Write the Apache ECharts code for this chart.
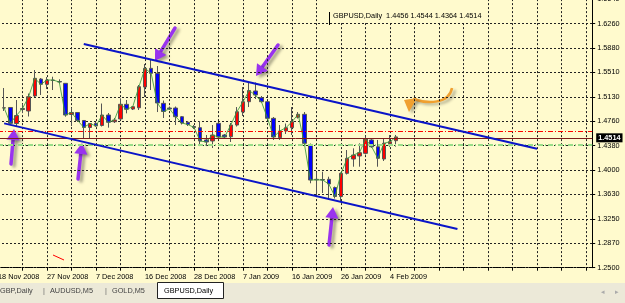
<!DOCTYPE html>
<html><head><meta charset="utf-8">
<script src="https://cdn.jsdelivr.net/npm/echarts/dist/echarts.min.js"></script>
<style>html,body{margin:0;padding:0;background:#fffacd;}#c{width:625px;height:303px;}</style>
</head><body><div id="c"></div>
<script>
// ---- data ----
const categories = ["18 Nov 2008","19 Nov 2008","20 Nov 2008","21 Nov 2008","23 Nov 2008","24 Nov 2008","25 Nov 2008","26 Nov 2008","27 Nov 2008","28 Nov 2008",
"30 Nov 2008","1 Dec 2008","2 Dec 2008","3 Dec 2008","4 Dec 2008","5 Dec 2008","7 Dec 2008","8 Dec 2008","9 Dec 2008","10 Dec 2008",
"11 Dec 2008","12 Dec 2008","14 Dec 2008","15 Dec 2008","16 Dec 2008","17 Dec 2008","18 Dec 2008","19 Dec 2008","21 Dec 2008","22 Dec 2008",
"23 Dec 2008","24 Dec 2008","28 Dec 2008","29 Dec 2008","30 Dec 2008","31 Dec 2008","2 Jan 2009","4 Jan 2009","5 Jan 2009","6 Jan 2009",
"7 Jan 2009","8 Jan 2009","9 Jan 2009","11 Jan 2009","12 Jan 2009","13 Jan 2009","14 Jan 2009","15 Jan 2009","16 Jan 2009","18 Jan 2009",
"19 Jan 2009","20 Jan 2009","21 Jan 2009","22 Jan 2009","23 Jan 2009","25 Jan 2009","26 Jan 2009","27 Jan 2009","28 Jan 2009","29 Jan 2009",
"30 Jan 2009","1 Feb 2009","2 Feb 2009","3 Feb 2009","4 Feb 2009","5 Feb 2009"];
const openP  = [null,1.4959,1.4967,1.4720,1.4936,1.4913,1.5144,1.5405,1.5324,1.5383,1.5367,1.5339,1.4859,1.4890,1.4767,1.4659,1.4723,1.4690,1.4851,1.4748,1.4790,1.5016,1.4943,1.4963,1.5282,1.5570,1.5493,1.5031,1.4959,1.4959,1.4825,1.4739,1.4674,1.4656,1.4467,1.4451,1.4723,1.4543,1.4517,1.4697,1.4897,1.5056,1.5221,1.5117,1.5056,1.4800,1.4502,1.4605,1.4656,1.4816,1.4862,1.4397,1.3861,1.3858,1.3861,1.3735,1.3596,1.3953,1.4174,1.4220,1.4261,1.4467,1.4362,1.4174,1.4409,1.4456];
const closeP = [null,1.4962,1.4723,1.4843,1.4951,1.5133,1.5416,1.5324,1.5390,1.5390,1.5359,1.4851,1.4890,1.4767,1.4659,1.4720,1.4682,1.4851,1.4739,1.4774,1.5016,1.4939,1.4979,1.5287,1.5570,1.5493,1.5036,1.4905,1.4946,1.4825,1.4728,1.4705,1.4659,1.4451,1.4436,1.4543,1.4513,1.4513,1.4697,1.4902,1.5056,1.5228,1.5159,1.5056,1.4800,1.4513,1.4605,1.4656,1.4748,1.4862,1.4415,1.3850,1.3853,1.3850,1.3789,1.3596,1.3953,1.4184,1.4235,1.4271,1.4482,1.4362,1.4184,1.4415,1.4440,1.4514];
const highP  = [null,1.5267,1.4974,1.5082,1.5021,1.5182,1.5544,1.5421,1.5436,1.5441,1.5401,1.5344,1.4959,1.4897,1.4774,1.4728,1.4744,1.5028,1.4882,1.4805,1.5108,1.5082,1.4990,1.5313,1.5636,1.5713,1.5606,1.5074,1.4982,1.4982,1.4836,1.4759,1.4697,1.4759,1.4543,1.4697,1.4744,1.4559,1.4728,1.4974,1.5282,1.5355,1.5352,1.5144,1.5067,1.4820,1.4697,1.4720,1.4974,1.4897,1.4897,1.4412,1.3974,1.3978,1.3901,1.3750,1.3966,1.4312,1.4338,1.4415,1.4520,1.4492,1.4467,1.4497,1.4543,1.4544];
const lowP   = [null,1.4913,1.4713,1.4666,1.4882,1.4828,1.5128,1.5159,1.5251,1.5236,1.5339,1.4825,1.4682,1.4744,1.4482,1.4497,1.4671,1.4674,1.4656,1.4728,1.4774,1.4877,1.4928,1.4928,1.5128,1.5236,1.4897,1.4805,1.4928,1.4697,1.4705,1.4682,1.4636,1.4373,1.4373,1.4343,1.4490,1.4497,1.4436,1.4674,1.4836,1.4974,1.5098,1.5044,1.4774,1.4467,1.4467,1.4559,1.4543,1.4797,1.4397,1.3800,1.3612,1.3650,1.3543,1.3566,1.3527,1.3935,1.4055,1.4055,1.4243,1.4347,1.4055,1.4143,1.4362,1.4364];
const priceTickLabels = ["1.2500","1.2870","1.3250","1.3630","1.4000","1.4380","1.4760","1.5130","1.5510","1.5880","1.6260","1.6640"];
const upperChannel = [[14,1.5945],[88,1.4331]];
const lowerChannel = [[1,1.4722],[75,1.3097]];
const redLevel = 1.4585, bidLevel = 1.4514, greenLevel = 1.4447;
const infoText = "GBPUSD,Daily  1.4456 1.4544 1.4364 1.4514";
const futureSlots = 32;

// ---- chart ----
const axisCats = categories.concat(Array.from({length:futureSlots},(_,i)=>'+'+(i+1)));
const candleData = categories.map((d,k)=> openP[k]==null ? '-' : [openP[k],closeP[k],lowP[k],highP[k]]);
const FONT = 'Liberation Sans, Arial, sans-serif';
const dotted = {color:'#222',type:[2,2],width:1};

function arrow(x1,y1,x2,y2,color,w,head){
  const dx=x2-x1, dy=y2-y1, len=Math.hypot(dx,dy), ux=dx/len, uy=dy/len;
  const bx=x2-ux*head, by=y2-uy*head, px=-uy, py=ux, hw=head*0.6;
  const sh={shadowColor:'rgba(0,0,0,0.35)',shadowBlur:3,shadowOffsetX:3,shadowOffsetY:2};
  return {type:'group',z:100,silent:true,children:[
    {type:'line',shape:{x1:x1,y1:y1,x2:bx+ux,y2:by+uy},style:Object.assign({stroke:color,lineWidth:w,lineCap:'round'},sh)},
    {type:'polygon',shape:{points:[[x2,y2],[bx+px*hw,by+py*hw],[bx-px*hw,by-py*hw]]},style:Object.assign({fill:color},sh)}
  ]};
}
const purple='#9933ee';

const chart = echarts.init(document.getElementById('c'));
chart.setOption({
  animation:false,
  backgroundColor:'#fffacd',
  textStyle:{fontFamily:FONT},
  grid:{left:-2,right:32.8,top:-0.9,bottom:35.3,containLabel:false,outerBoundsMode:'none'},
  xAxis:{type:'category',data:axisCats,boundaryGap:false,
    axisLine:{lineStyle:{color:'#000',type:[2,1]}},
    axisTick:{interval:(k)=>k%4===0,length:3,lineStyle:{color:'#000'}},
    axisLabel:{interval:0,hideOverlap:false,align:'left',margin:6,fontSize:7.3,color:'#000',fontFamily:FONT,
      formatter:(v,k)=> (k%8===0 && k<categories.length) ? v : ''},
    splitLine:{show:true,interval:(k)=>k%4===0,lineStyle:dotted}},
  yAxis:[
    {type:'value',min:1.25,max:1.6636,show:false,position:'left',scale:true},
    {type:'value',min:0,max:11,interval:1,position:'right',
      axisLine:{show:true,lineStyle:{color:'#000'}},
      axisTick:{show:true,length:3,lineStyle:{color:'#000'}},
      axisLabel:{margin:5,fontSize:7.3,color:'#000',fontFamily:FONT,formatter:(v)=>priceTickLabels[Math.round(v)]||''},
      splitLine:{show:true,lineStyle:dotted}}
  ],
  series:[
    {type:'candlestick',yAxisIndex:0,data:candleData,barWidth:4,z:3,
      itemStyle:{color:'#ff0000',color0:'#0000ff',borderColor:'#555',borderColor0:'#555',borderWidth:1},
      markLine:{silent:true,symbol:['none','none'],animation:false,
        data:[
          {yAxis:redLevel,lineStyle:{color:'#ff0000',type:[5,2,1,2],width:1},label:{show:false}},
          {yAxis:greenLevel,lineStyle:{color:'#99dd88',type:[5,2,1,2],width:2},label:{show:false}},
          {yAxis:bidLevel,lineStyle:{color:'#7a1a1a',type:'solid',width:1},
            label:{show:true,position:'end',distance:4,formatter:bidLevel.toFixed(4),backgroundColor:'#000',color:'#fff',fontSize:7.3,fontWeight:'bold',padding:[1,2,1,2],fontFamily:FONT}}
        ]}},
    {type:'line',yAxisIndex:0,data:closeP,symbol:'none',z:4,lineStyle:{color:'#3a9a3a',width:1,opacity:0.85}},
    {type:'line',yAxisIndex:0,data:upperChannel,symbol:'none',z:5,lineStyle:{color:'#0a14c8',width:2}},
    {type:'line',yAxisIndex:0,data:lowerChannel,symbol:'none',z:5,lineStyle:{color:'#0a14c8',width:2}}
  ],
  graphic:[
    // info box
    {type:'rect',z:90,shape:{x:330,y:0,width:154,height:22},style:{fill:'#fffacd'}},
    {type:'line',z:91,shape:{x1:329.5,y1:12,x2:329.5,y2:25},style:{stroke:'#000',lineWidth:1}},
    {type:'text',z:92,style:{x:333,y:16,text:infoText,fill:'#000',font:'7.3px '+FONT,textVerticalAlign:'middle'}},
    // annotation arrows
    arrow(11,164,14,129,purple,3.5,11),
    arrow(78,179,82,143,purple,3.5,11),
    arrow(175,28,155,61,purple,3.5,11),
    arrow(278,45,256,76,purple,3.5,11),
    arrow(329,245,333,207,purple,3.5,11),
    {type:'group',z:100,silent:true,children:[
      {type:'bezierCurve',shape:{x1:452,y1:88,cpx1:449,cpy1:104,cpx2:428,cpy2:104,x2:413,y2:99},style:{stroke:'#f0a030',lineWidth:2.5,fill:null,shadowColor:'rgba(0,0,0,0.3)',shadowBlur:3,shadowOffsetX:3,shadowOffsetY:2}},
      {type:'polygon',shape:{points:[[404,100],[417,98],[409,112]]},style:{fill:'#f0a030',shadowColor:'rgba(0,0,0,0.3)',shadowBlur:3,shadowOffsetX:3,shadowOffsetY:2}}
    ]},
    {type:'line',z:100,shape:{x1:53,y1:255,x2:64,y2:260},style:{stroke:'#ff0000',lineWidth:1}},
    // tab bar
    {type:'rect',z:110,shape:{x:0,y:283,width:625,height:20},style:{fill:'#ece9d8'}},
    {type:'rect',z:111,shape:{x:157.5,y:282.5,width:66,height:16},style:{fill:'#fff',stroke:'#222',lineWidth:1}},
    {type:'text',z:112,style:{x:0,y:290.5,text:'GBP,Daily',fill:'#444',font:'7.3px '+FONT,textVerticalAlign:'middle'}},
    {type:'text',z:112,style:{x:43,y:290.5,text:'|',fill:'#666',font:'7.3px '+FONT,textVerticalAlign:'middle'}},
    {type:'text',z:112,style:{x:50,y:290.5,text:'AUDUSD,M5',fill:'#444',font:'7.3px '+FONT,textVerticalAlign:'middle'}},
    {type:'text',z:112,style:{x:105,y:290.5,text:'|',fill:'#666',font:'7.3px '+FONT,textVerticalAlign:'middle'}},
    {type:'text',z:112,style:{x:112,y:290.5,text:'GOLD,M5',fill:'#444',font:'7.3px '+FONT,textVerticalAlign:'middle'}},
    {type:'text',z:112,style:{x:164,y:290.5,text:'GBPUSD,Daily',fill:'#000',font:'7.3px '+FONT,textVerticalAlign:'middle'}},
    {type:'text',z:112,style:{x:601,y:292,text:'◂',fill:'#aaa',font:'7px '+FONT,textVerticalAlign:'middle'}},
    {type:'text',z:112,style:{x:615,y:292,text:'▸',fill:'#aaa',font:'7px '+FONT,textVerticalAlign:'middle'}}
  ]
});
</script></body></html>
